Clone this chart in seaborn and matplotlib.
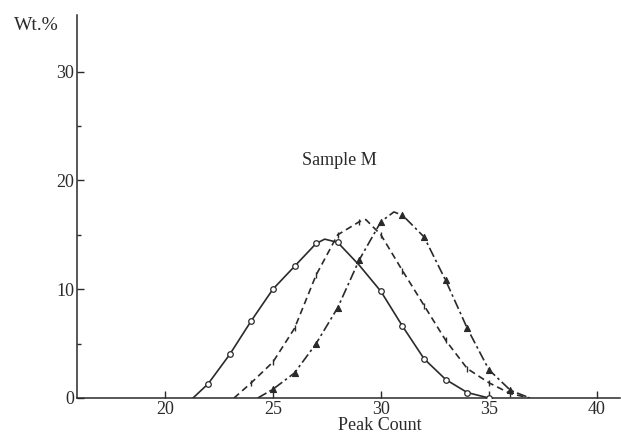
import matplotlib
matplotlib.use("Agg")
import matplotlib.pyplot as plt
import seaborn as sns
import pandas as pd

# ---- data ----
solid_x = [21.3, 22, 23, 24, 25, 26, 27, 27.4, 28, 29, 30, 31, 32, 33, 34, 35]
solid_y = [0.0, 1.3, 4.0, 7.1, 10.0, 12.1, 14.2, 14.6, 14.3, 12.2, 9.8, 6.6, 3.6, 1.7, 0.5, 0.0]
solid_mark = [False, True, True, True, True, True, True, False, True, False, True, True, True, True, True, True]

dashed_x = [23.2, 24, 25, 26, 27, 28, 29, 29.3, 30, 31, 32, 33, 34, 35, 36, 36.9]
dashed_y = [0.0, 1.4, 3.3, 6.4, 11.3, 15.0, 16.2, 16.4, 15.0, 11.7, 8.5, 5.3, 2.7, 1.4, 0.4, 0.0]
dashed_mark = [False, True, True, True, True, True, True, False, True, True, True, True, True, True, True, False]

dashdot_x = [24.3, 25, 26, 27, 28, 29, 30, 30.6, 31, 32, 33, 34, 35, 36, 36.9]
dashdot_y = [0.0, 0.8, 2.3, 5.0, 8.3, 12.7, 16.2, 17.1, 16.8, 14.8, 10.8, 6.4, 2.6, 0.7, 0.0]
dashdot_mark = [False, True, True, True, True, True, True, False, True, True, True, True, True, True, False]

x_ticks = [20, 25, 30, 35, 40]
y_ticks = [0, 10, 20, 30]
y_minor = [5, 15, 25]
title_text = "Sample M"
x_label = "Peak Count"
y_label = "Wt.%"

# ---- style ----
sns.set_style("ticks")
plt.rcParams["font.family"] = ["Liberation Serif", "DejaVu Serif"]

fig = plt.figure(figsize=(6.21, 4.37), dpi=100)
ax = fig.add_axes([77 / 621, 39 / 437, 543 / 621, 383 / 437])

ink = "#2a2a2a"

def draw(xs, ys, mask, ls, marker, msize, face):
    df = pd.DataFrame({"x": xs, "y": ys, "m": mask})
    sns.lineplot(data=df, x="x", y="y", ax=ax, color=ink, linewidth=1.2,
                 linestyle=ls, sort=True, estimator=None)
    dm = df[df["m"]]
    if marker == "|":
        sns.scatterplot(data=dm, x="x", y="y", ax=ax, marker="|", s=msize,
                        color=ink, linewidth=1.0, zorder=3)
    else:
        sns.scatterplot(data=dm, x="x", y="y", ax=ax, marker=marker, s=msize,
                        facecolor=face, edgecolor=ink, linewidth=0.9, zorder=3)

draw(solid_x, solid_y, solid_mark, "-", "o", 16, "white")
draw(dashed_x, dashed_y, dashed_mark, (0, (4, 2.5)), "|", 22, None)
draw(dashdot_x, dashdot_y, dashdot_mark, (0, (6, 2, 1.5, 2)), "^", 18, ink)

ax.set_xlim(15.93, 41.07)
ax.set_ylim(0, 35.2)
ax.set_xticks(x_ticks)
ax.set_yticks(y_ticks)
ax.set_yticks(y_minor, minor=True)
ax.set_xlabel(x_label, fontsize=13, color=ink)
ax.xaxis.set_label_coords((380 - 77) / 543, -0.050)
ax.set_ylabel("")
ax.tick_params(axis="both", which="major", direction="in", length=5, width=1,
               labelsize=13, colors=ink, pad=2)
ax.tick_params(axis="y", which="minor", direction="in", length=3, width=1, colors=ink)
ax.tick_params(axis="x", which="minor", bottom=False)
for s in ["top", "right"]:
    ax.spines[s].set_visible(False)
for s in ["left", "bottom"]:
    ax.spines[s].set_color(ink)
    ax.spines[s].set_linewidth(1.1)

ax.text(28.1, 21.8, title_text, ha="center", va="center", fontsize=13, color=ink)
fig.text(36 / 621, 1 - 26 / 437, y_label, ha="center", va="center", fontsize=14, color=ink)

fig.savefig("out.png", dpi=100)
